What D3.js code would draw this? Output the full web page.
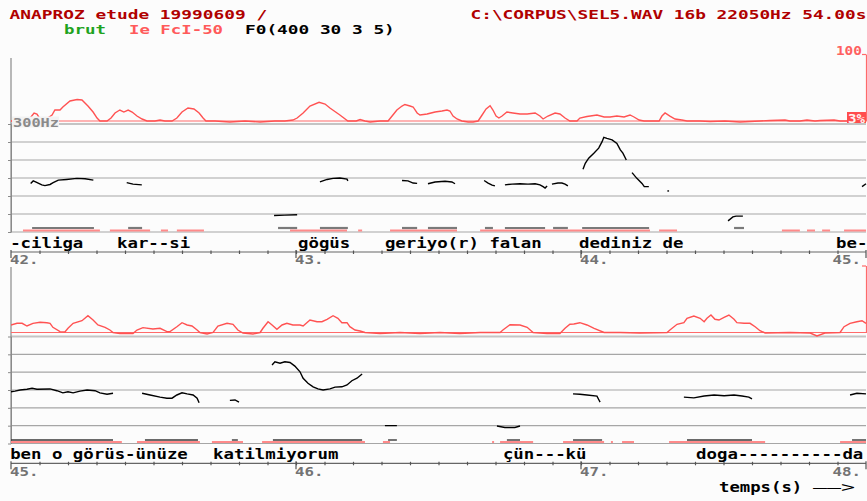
<!DOCTYPE html>
<html><head><meta charset="utf-8">
<script src="https://cdn.jsdelivr.net/npm/d3@7"></script>
<style>body{margin:0;background:#fcfcfc}svg{display:block}</style>
</head><body><svg id="c" width="867" height="501"></svg>
<script>
// ---------------- DATA ----------------
const headerLeft = "ANAPROZ etude 19990609 /";
const headerRight = "C:\\CORPUS\\SEL5.WAV 16b 22050Hz 54.00s";
const legendLabels = ["brut", "Ie FcI-50", "F0(400 30 3 5)"];
const panelStarts = [42, 45];
const panelSpan = 3;
const f0GridHz = [300, 250, 200, 150, 100, 50, 0];
const f0RefLabel = "300Hz";
const intensityTickLabels = ["100", "3%"];
const tickLabels1 = ["42.", "43.", "44.", "45."];
const tickLabels2 = ["45.", "46.", "47.", "48."];
const axisTitle = "temps(s)";

// intensity (%), [time s, value]
const intensity1 = [[42.000,3],[42.060,3],[42.070,8.8],[42.081,14.6],[42.091,13.1],[42.102,5.9],[42.119,4.4],[42.144,11.7],[42.154,18.9],[42.172,18.9],[42.182,23.3],[42.207,32.0],[42.232,34.1],[42.249,33.4],[42.270,24.7],[42.288,16.0],[42.302,7.3],[42.312,3],[42.337,3],[42.351,7.3],[42.365,14.6],[42.382,18.9],[42.396,16.0],[42.411,18.9],[42.425,16.0],[42.442,10.2],[42.460,5.9],[42.477,3],[42.505,3],[42.523,4.4],[42.540,3],[42.565,3],[42.582,7.3],[42.600,16.0],[42.621,21.8],[42.642,20.4],[42.660,14.6],[42.674,7.3],[42.684,3],[42.716,3],[42.768,1.6],[42.821,3],[42.874,1.6],[42.926,3],[42.961,3],[42.989,4.4],[43.004,7.3],[43.025,14.6],[43.049,24.7],[43.081,30.1],[43.102,27.6],[43.119,21.8],[43.154,11.7],[43.182,3],[43.211,3],[43.225,5.2],[43.242,3],[43.260,1.6],[43.295,3],[43.323,3],[43.340,11.7],[43.354,18.9],[43.372,24.7],[43.382,26.9],[43.400,24.7],[43.411,23.3],[43.425,14.6],[43.435,11.7],[43.460,13.1],[43.488,16.0],[43.512,17.5],[43.530,18.9],[43.540,17.5],[43.551,10.2],[43.565,5.9],[43.582,3],[43.604,1.6],[43.621,1.6],[43.639,3],[43.653,11.7],[43.667,20.4],[43.681,25.2],[43.691,18.9],[43.702,10.2],[43.712,7.3],[43.723,10.2],[43.740,16.0],[43.761,14.6],[43.786,13.1],[43.811,13.1],[43.839,14.6],[43.856,10.2],[43.867,5.9],[43.884,10.2],[43.909,14.6],[43.926,13.1],[43.944,7.3],[43.961,3],[43.986,3],[43.996,7.3],[44.021,9.5],[44.056,11.7],[44.081,8.8],[44.102,8.8],[44.126,10.2],[44.151,8.8],[44.172,11.7],[44.186,8.8],[44.204,4.4],[44.221,3],[44.274,3],[44.284,10.2],[44.295,14.6],[44.312,10.2],[44.330,5.9],[44.354,4.4],[44.372,3],[44.418,3],[44.453,2.3],[44.505,3],[44.558,1.6],[44.628,3],[44.663,3.7],[44.716,4.4],[44.733,3],[44.768,3],[44.793,4.4],[44.821,3],[44.839,3.7],[44.888,4.4],[44.909,3],[45.000,3]];
const intensity2 = [[45.000,13.9],[45.021,16.3],[45.039,16.3],[45.056,12.4],[45.077,16.3],[45.102,17.8],[45.126,17.2],[45.137,16.3],[45.147,10.5],[45.172,4.2],[45.189,3.7],[45.200,9.1],[45.218,16.3],[45.249,20.1],[45.270,27.3],[45.288,21.1],[45.305,13.9],[45.330,10.5],[45.347,6.6],[45.358,3],[45.382,1.6],[45.428,1.6],[45.442,6.6],[45.463,10.0],[45.498,8.1],[45.523,9.1],[45.547,4.2],[45.558,4.2],[45.582,11.4],[45.600,17.2],[45.618,13.9],[45.635,12.4],[45.653,6.6],[45.663,3],[45.688,0.8],[45.709,3],[45.726,12.4],[45.758,16.3],[45.779,14.9],[45.796,6.6],[45.814,2.3],[45.849,0.8],[45.874,3],[45.884,9.1],[45.902,18.6],[45.916,13.9],[45.933,7.6],[45.951,13.9],[45.968,16.3],[45.989,13.9],[46.014,13.9],[46.025,12.4],[46.049,21.1],[46.074,18.6],[46.091,18.6],[46.109,22.1],[46.130,27.3],[46.147,23.6],[46.161,17.2],[46.179,17.2],[46.189,11.4],[46.207,6.6],[46.225,5.2],[46.242,3],[46.295,1.6],[46.365,3],[46.435,1.6],[46.505,3],[46.575,1.6],[46.646,3],[46.716,3],[46.726,6.6],[46.751,14.3],[46.786,13.9],[46.811,10.5],[46.832,3],[46.881,1.6],[46.926,1.6],[46.944,9.1],[46.961,14.9],[46.975,15.3],[46.996,17.2],[47.021,13.9],[47.046,9.1],[47.081,3],[47.137,3],[47.207,2.3],[47.302,3],[47.312,6.6],[47.337,14.9],[47.361,17.2],[47.372,23.6],[47.396,26.9],[47.418,23.6],[47.432,18.6],[47.442,23.6],[47.456,28.3],[47.470,22.1],[47.484,21.1],[47.502,25.0],[47.519,28.3],[47.537,22.1],[47.547,17.2],[47.572,16.3],[47.593,16.3],[47.611,11.4],[47.628,5.6],[47.646,2.3],[47.733,3],[47.804,2.3],[47.828,-2],[47.856,2.3],[47.909,3],[47.923,11.4],[47.944,16.3],[47.968,18.6],[47.986,20.1],[48.000,16.3]];

// F0 segments (Hz), [time s, Hz]
const f0Segments1 = [
 [[42.069,135],[42.078,142],[42.090,138],[42.108,131],[42.119,129],[42.137,132],[42.148,137],[42.166,144],[42.195,146],[42.231,149],[42.260,148],[42.289,144]],
 [[42.406,137],[42.428,133],[42.459,131]],
 [[42.923,46],[42.960,47],[43.004,48]],
 [[43.084,139],[43.109,146],[43.130,149],[43.154,150],[43.179,147],[43.182,142]],
 [[43.372,143],[43.393,142],[43.411,136],[43.425,135]],
 [[43.463,134],[43.488,139],[43.523,141],[43.547,139],[43.558,134]],
 [[43.660,143],[43.674,136],[43.688,130],[43.698,128]],
 [[43.733,131],[43.758,133],[43.786,134],[43.814,133],[43.839,134],[43.856,131],[43.867,126],[43.874,122],[43.881,128]],
 [[43.898,133],[43.919,136],[43.933,136],[43.944,133],[43.954,128]],
 [[44.007,174],[44.015,191],[44.027,205],[44.045,219],[44.062,233],[44.074,251],[44.080,263],[44.091,260],[44.109,256],[44.126,246],[44.138,228],[44.147,219],[44.159,200]],
 [[44.179,165],[44.196,149],[44.214,135],[44.222,126],[44.238,126]],
 [[44.303,114],[44.309,114]],
 [[44.516,31],[44.533,42],[44.544,44],[44.568,44]],
 [[44.986,126],[45.000,134]]
];
const f0Segments2 = [
 [[45.000,145],[45.014,147],[45.032,150],[45.056,152],[45.074,155],[45.091,152],[45.137,153],[45.161,148],[45.182,142],[45.200,145],[45.218,142],[45.242,147],[45.267,150],[45.295,148],[45.312,142],[45.337,138],[45.358,141]],
 [[45.460,141],[45.488,136],[45.523,130],[45.547,127],[45.565,127],[45.582,136],[45.600,142],[45.618,139],[45.639,136],[45.653,127],[45.660,114]],
 [[45.768,121],[45.786,122],[45.800,116]],
 [[45.916,220],[45.926,229],[45.944,225],[45.961,229],[45.979,227],[45.996,217],[46.014,201],[46.025,183],[46.042,169],[46.060,159],[46.077,153],[46.095,150],[46.119,153],[46.137,158],[46.161,159],[46.179,164],[46.196,176],[46.214,183],[46.232,195]],
 [[46.312,50],[46.354,50]],
 [[46.705,49],[46.733,45],[46.768,45],[46.786,49]],
 [[46.972,139],[46.996,138],[47.021,136],[47.056,133],[47.063,122],[47.067,116]],
 [[47.361,130],[47.396,128],[47.432,133],[47.467,136],[47.502,134],[47.537,136],[47.565,133],[47.589,130],[47.600,125]],
 [[47.944,136],[47.968,141],[48.000,139]]
];

// voicing bars [t0, t1]
const grayBars1 = [[42.074,42.291],[42.411,42.460],[42.937,43.004],[43.084,43.182],[43.372,43.425],[43.463,43.565],[43.663,43.691],[43.733,43.874],[43.902,43.954],[44.004,44.239],[44.537,44.572]];
const redBars1 = [[42.042,42.312],[42.347,42.488],[42.526,42.551],[42.582,42.677],[42.979,43.179],[43.218,43.232],[43.330,43.565],[43.646,44.242],[44.274,44.337],[44.705,44.768],[44.793,44.821],[44.846,44.874],[44.923,45.000]];
const grayBars2 = [[45.000,45.358],[45.470,45.656],[45.775,45.796],[45.919,46.232],[46.323,46.354],[46.740,46.786],[46.972,47.074],[47.372,47.600],[47.951,48.000]];
const redBars2 = [[45.000,45.389],[45.442,45.663],[45.705,45.814],[45.881,46.242],[46.305,46.330],[46.688,46.695],[46.716,46.832],[46.937,47.081],[47.105,47.112],[47.144,47.186],[47.309,47.646],[47.909,48.000]];

// word transcription [start time, text]
const words1 = [[41.997,"-ciliga"],[42.372,"kar--si"],[43.007,"gögüs"],[43.312,"geriyo(r) falan"],[43.993,"dediniz de"],[44.895,"be-"]];
const words2 = [[44.997,"ben o görüs-ünüze"],[45.709,"katilmiyorum"],[46.726,"çün---kü"],[47.404,"doga----------da"]];

// ---------------- DRAW ----------------
const svg = d3.select("#c");
svg.append("rect").attr("width",867).attr("height",501).attr("fill","#fcfcfc");
const FONT = "'DejaVu Sans Mono','Liberation Mono',monospace";
function txt(g, x, y, s, o) {
  const t = g.append("text").attr("x",x).attr("y",y)
    .attr("font-family",FONT).attr("font-size",o.fs||13)
    .attr("font-weight",o.weight||"bold").attr("fill",o.fill||"#000")
    .attr("text-anchor",o.anchor||"start")
    .attr("textLength", s.length*o.cw).attr("lengthAdjust","spacingAndGlyphs")
    .text(s);
  return t;
}

// header
txt(svg, 9.5, 18.5, headerLeft, {cw:10.74, fill:"#b00000"});
txt(svg, 470.5, 18.5, headerRight, {cw:10.7, fill:"#b00000"});
const legendColors = ["#1fa31f", "#ff5a5a", "#000000"];
const legendX = [64, 129, 245];
const legendCw = [10.5, 10.45, 10.7];
legendLabels.forEach((s,i)=>txt(svg, legendX[i], 34, s, {cw:legendCw[i], fill:legendColors[i]}));

const X0 = 11, X1 = 866;
const layouts = [
 {intenBase:121, intenTop:54, f0Top:124, f0Bot:232, axisTop:58, grayY:228, redY:230.5, wordY:247.5, axisY:252, labelY:264},
 {intenBase:332.5, intenTop:265.5, f0Top:336.5, f0Bot:443.5, axisTop:267, grayY:440, redY:442, wordY:458.5, axisY:463.3, labelY:476}
];
const panels = [
 {start:panelStarts[0], inten:intensity1, f0:f0Segments1, gray:grayBars1, red:redBars1, words:words1, ticks:tickLabels1, refLabels:true},
 {start:panelStarts[1], inten:intensity2, f0:f0Segments2, gray:grayBars2, red:redBars2, words:words2, ticks:tickLabels2, refLabels:false}
];

panels.forEach((p,pi)=>{
  const L = layouts[pi];
  const g = svg.append("g");
  const x = d3.scaleLinear().domain([p.start, p.start+panelSpan]).range([X0, X1]);
  const yF = d3.scaleLinear().domain([0,300]).range([L.f0Bot, L.f0Top]);
  const yI = d3.scaleLinear().domain([3,100]).range([L.intenBase, L.intenTop]);

  const clipId = "clip"+pi;
  svg.append("clipPath").attr("id",clipId).append("rect")
    .attr("x",X0).attr("y",L.intenTop-5).attr("width",X1-X0+1).attr("height",L.f0Bot-L.intenTop+10);

  // grid
  g.selectAll("line.grid").data(f0GridHz).enter().append("line")
    .attr("x1",X0).attr("x2",X1).attr("y1",d=>yF(d)).attr("y2",d=>yF(d))
    .attr("stroke", d=>d===300?"#c4c4c4":"#a6a6a6").attr("stroke-width", d=>d===300?2:1.2);

  // left F0 axis
  g.append("line").attr("x1",X0).attr("x2",X0).attr("y1",L.axisTop).attr("y2",L.f0Bot).attr("stroke","#8a8a8a").attr("stroke-width",1.2);
  const la = g.append("g").attr("transform",`translate(${X0},0)`)
    .call(d3.axisLeft(yF).tickValues(f0GridHz).tickSize(3).tickSizeOuter(0).tickFormat(""));
  la.selectAll("line,path").attr("stroke","#8a8a8a");

  // voicing bars
  g.selectAll("line.red").data(p.red).enter().append("line")
    .attr("x1",d=>x(d[0])).attr("x2",d=>x(d[1])).attr("y1",L.redY).attr("y2",L.redY)
    .attr("stroke","#ff8a8a").attr("stroke-width",2);
  g.selectAll("line.gray").data(p.gray).enter().append("line")
    .attr("x1",d=>x(d[0])).attr("x2",d=>x(d[1])).attr("y1",L.grayY).attr("y2",L.grayY)
    .attr("stroke", pi===0?"#7a7a7a":"#3a3a3a").attr("stroke-width", pi===0?2.2:1.4);

  // intensity baseline + right axis
  g.append("line").attr("x1",X0).attr("x2",X1).attr("y1",yI(3)).attr("y2",yI(3)).attr("stroke","#ff6a6a").attr("stroke-width",1.2);
  const ra = g.append("g").attr("transform",`translate(${X1},0)`)
    .call(d3.axisLeft(yI).tickValues([100]).tickSize(4).tickSizeOuter(0).tickFormat(""));
  ra.selectAll("line,path").attr("stroke","#ff6a6a").attr("stroke-width",1.2);

  // intensity curve
  const lineI = d3.line().x(d=>x(d[0])).y(d=>yI(d[1]));
  g.append("path").datum(p.inten).attr("d",lineI).attr("fill","none")
    .attr("stroke","#ff5252").attr("stroke-width",1.4).attr("clip-path",`url(#${clipId})`);

  // F0 segments
  const lineF = d3.line().x(d=>x(d[0])).y(d=>yF(d[1]));
  g.selectAll("path.f0").data(p.f0).enter().append("path").attr("d",lineF)
    .attr("fill","none").attr("stroke","#000").attr("stroke-width",1.4).attr("clip-path",`url(#${clipId})`);

  // reference labels
  if (p.refLabels) {
    g.append("rect").attr("x",12).attr("y",yF(300)-7.5).attr("width",47).attr("height",11).attr("fill","#f2f2f2");
    txt(g, 13, yF(300)+3, f0RefLabel, {cw:9.2, fs:12, fill:"#8a8a8a"});
    txt(g, X1-4, yI(100)+0.5, intensityTickLabels[0], {cw:8.7, fs:12, fill:"#ff6060", anchor:"end"});
    g.append("rect").attr("x",847).attr("y",yI(3)-9).attr("width",19).attr("height",11).attr("fill","#ff4d4d");
    txt(g, 848, yI(3)+1.5, intensityTickLabels[1], {cw:8.5, fs:12, fill:"#fff2f2"});
  }

  // words
  p.words.forEach(w=>txt(g, x(w[0]), L.wordY, w[1], {cw:10.45, fs:13.5}));

  // time axis
  g.append("line").attr("x1",X0).attr("x2",X1).attr("y1",L.axisY).attr("y2",L.axisY).attr("stroke","#666").attr("stroke-width",1.2);
  const minor = d3.range(1,30).map(i=>p.start+i/10);
  const ta = g.append("g").attr("transform",`translate(0,${L.axisY-1.5})`)
    .call(d3.axisBottom(x).tickValues(minor).tickSize(3.5).tickSizeOuter(0).tickFormat(""));
  ta.select(".domain").remove();
  ta.selectAll("line").attr("stroke","#555").attr("stroke-width",1.2);
  const major = d3.range(0,4).map(i=>p.start+i);
  g.selectAll("line.maj").data(major).enter().append("line")
    .attr("x1",d=>x(d)).attr("x2",d=>x(d)).attr("y1",L.axisY-2).attr("y2",L.axisY+6)
    .attr("stroke","#555").attr("stroke-width",1.2);
  p.ticks.forEach((s,i)=>{
    const tx = x(major[i]);
    if (i===p.ticks.length-1) txt(g, X1-5, L.labelY, s, {cw:9.5, fill:"#737373", anchor:"end"});
    else txt(g, tx-1, L.labelY, s, {cw:9.5, fill:"#737373"});
  });
});

// axis title
txt(svg, 719, 491.5, axisTitle, {cw:10.4, fs:13.5});
txt(svg, 813, 491.5, "——>", {cw:14, fs:13.5, weight:"normal"});
</script></body></html>
